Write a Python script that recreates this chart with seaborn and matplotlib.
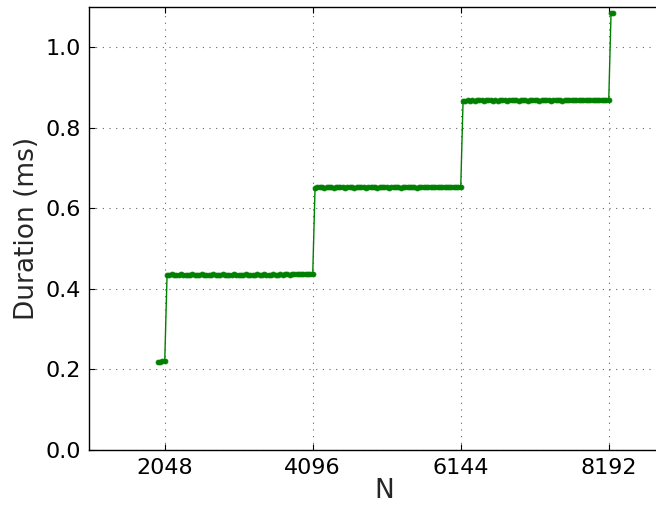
import numpy as np
import pandas as pd
import matplotlib
matplotlib.use("Agg")
import matplotlib.pyplot as plt
import seaborn as sns

# Problem sizes measured (every 32 elements)
sizes = list(range(1952, 8257, 32))

# Measured kernel durations (ms), one plateau per 2048-element block
dur_block0 = [0.219, 0.219, 0.220, 0.220]
dur_block1 = [0.434, 0.435, 0.436, 0.435, 0.434, 0.435, 0.436, 0.435,
              0.434, 0.435, 0.435, 0.436, 0.435, 0.434, 0.435, 0.436,
              0.435, 0.434, 0.435, 0.435, 0.436, 0.435, 0.434, 0.435,
              0.436, 0.435, 0.435, 0.434, 0.435, 0.436, 0.435, 0.435,
              0.434, 0.435, 0.436, 0.435, 0.435, 0.434, 0.435, 0.436,
              0.435, 0.435, 0.436, 0.435, 0.434, 0.435, 0.436, 0.435,
              0.435, 0.436, 0.435, 0.436, 0.436, 0.435, 0.436, 0.437,
              0.436, 0.437, 0.437, 0.438, 0.437, 0.438, 0.438, 0.437]
dur_block2 = [0.651, 0.652, 0.653, 0.652, 0.651, 0.652, 0.653, 0.652,
              0.651, 0.652, 0.652, 0.653, 0.652, 0.651, 0.652, 0.653,
              0.652, 0.651, 0.652, 0.652, 0.653, 0.652, 0.651, 0.652,
              0.653, 0.652, 0.652, 0.651, 0.652, 0.653, 0.652, 0.652,
              0.651, 0.652, 0.653, 0.652, 0.652, 0.651, 0.652, 0.653,
              0.652, 0.652, 0.653, 0.652, 0.651, 0.652, 0.653, 0.652,
              0.652, 0.653, 0.652, 0.652, 0.653, 0.652, 0.652, 0.653,
              0.652, 0.653, 0.652, 0.653, 0.653, 0.652, 0.653, 0.652]
dur_block3 = [0.866, 0.867, 0.868, 0.867, 0.868, 0.867, 0.868, 0.869,
              0.868, 0.867, 0.868, 0.869, 0.868, 0.867, 0.868, 0.867,
              0.868, 0.869, 0.868, 0.867, 0.868, 0.868, 0.869, 0.868,
              0.867, 0.868, 0.869, 0.868, 0.867, 0.868, 0.868, 0.869,
              0.868, 0.867, 0.868, 0.869, 0.868, 0.868, 0.867, 0.868,
              0.869, 0.868, 0.868, 0.867, 0.868, 0.869, 0.868, 0.868,
              0.869, 0.868, 0.869, 0.868, 0.868, 0.869, 0.868, 0.869,
              0.869, 0.868, 0.869, 0.869, 0.868, 0.869, 0.869, 0.868]
dur_block4 = [1.085, 1.084]

durations = dur_block0 + dur_block1 + dur_block2 + dur_block3 + dur_block4

x_ticks = [2048, 4096, 6144, 8192]
y_ticks = [0.0, 0.2, 0.4, 0.6, 0.8, 1.0]

df = pd.DataFrame({"N": sizes, "Duration (ms)": durations})

sns.set_style("ticks")
plt.rcParams["font.family"] = ["DejaVu Sans"]

fig = plt.figure(figsize=(6.56, 5.05), dpi=100)
ax = fig.add_axes([89 / 656, 55 / 505, (680 - 89) / 656, 443 / 505])

sns.lineplot(data=df, x="N", y="Duration (ms)", ax=ax, color="green",
             marker="o", markersize=3.5, markeredgewidth=0.6,
             markeredgecolor="green", linewidth=1.0)

ax.set_xlim(1000, 1000 + (680 - 89) / 148 * 2048)
ax.set_ylim(0.0, 1.1)
ax.set_xticks(x_ticks)
ax.set_xticklabels([str(t) for t in x_ticks])
ax.set_yticks(y_ticks)
ax.set_yticklabels([f"{t:.1f}" for t in y_ticks])

ax.grid(True, color="#666666", linestyle=(0, (1, 5)), linewidth=0.8)
ax.tick_params(direction="in", length=4, width=0.8, top=True, right=True,
               labelsize=16, colors="black", pad=6)
for s in ax.spines.values():
    s.set_color("black")
    s.set_linewidth(1.0)

ax.set_xlabel("N", fontsize=19, labelpad=0)
ax.set_ylabel("Duration (ms)", fontsize=19, labelpad=4)

fig.savefig("out.png", dpi=100)
